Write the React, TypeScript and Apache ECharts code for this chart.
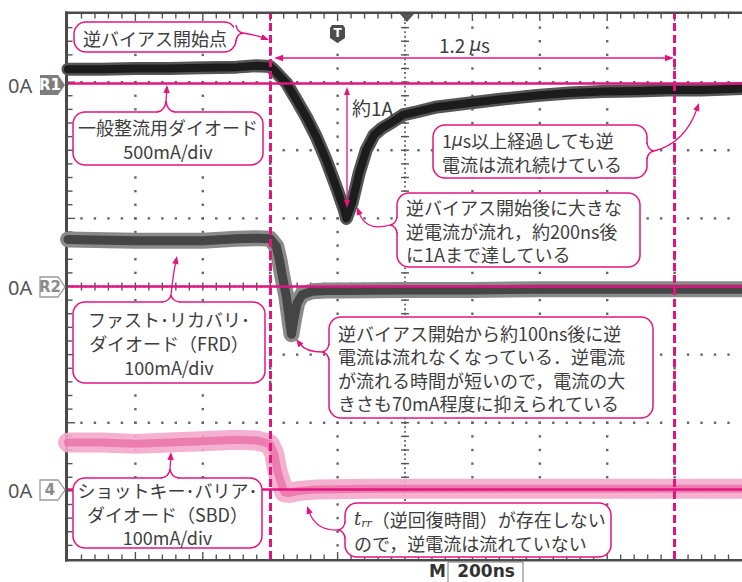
import { useEffect, useRef } from "react";
import * as echarts from "echarts";

// ---------------- data ----------------
// R1: general rectifier diode, 500 mA/div
const r1TimeNs = [0, 100, 200, 300, 400, 500, 560, 600, 615, 630, 648, 678, 707, 737, 766, 796, 820, 826, 843, 864, 885, 908, 932, 962, 994, 1033, 1095, 1192, 1290, 1391, 1488, 1586, 1686, 1784, 1882, 2000];
const r1CurrentA = [0.105, 0.105, 0.11, 0.11, 0.115, 0.12, 0.13, 0.125, 0.09, 0.05, 0.004, -0.121, -0.246, -0.393, -0.561, -0.76, -0.93, -0.99, -0.877, -0.657, -0.488, -0.378, -0.327, -0.283, -0.231, -0.209, -0.172, -0.143, -0.114, -0.088, -0.07, -0.059, -0.055, -0.048, -0.048, -0.037];
// R2: fast recovery diode, 100 mA/div
const frdTimeNs = [0, 200, 400, 500, 560, 600, 618, 627, 636, 648, 657, 663, 672, 680, 695, 725, 766, 800, 1000, 1200, 1400, 1600, 1800, 2000];
const frdCurrentMA = [69, 67, 67, 70, 71, 70, 59, 40, 15, -15, -48, -70, -44, -24, -12, -7, -6, -6, -5, -5, -4, -4, -4, -4];
// CH4: Schottky barrier diode, 100 mA/div
const sbdTimeNs = [0, 100, 200, 300, 400, 500, 560, 598, 612, 621, 633, 642, 657, 686, 737, 900, 1100, 1300, 1500, 1700, 1900, 2000];
const sbdCurrentMA = [69, 69, 67, 69, 71, 73, 72, 67, 53, 28, 9, -4, -5, -2, 0, 1, 1, 1, 1, 1, 1, 1];

const channelNames = ["R1", "R2", "4"];
const channelZeroDiv = [2.98, 0, -2.98];
const channelPerDiv = [0.5, 100, 100];
const cursorTimesNs = [600, 1800];
const timeRangeNs = [0, 2000];
const timeDivNs = 200;
const divRange = [-4, 4];
const minorPerDiv = 5;
const timebaseLabel = "200ns";

const MAG = "#e4147f";
const FONT = '"Noto Sans CJK JP", "Noto Sans", sans-serif';
const TXT = "#3d3d3d";

const pairs = (ts: number[], vs: number[], zero: number, perDiv: number) =>
  ts.map((t, i) => [t, zero + vs[i] / perDiv]);

function arrowHead(tx: number, ty: number, fx: number, fy: number, len = 8, half = 3.2): any {
  const dx = tx - fx, dy = ty - fy;
  const d = Math.hypot(dx, dy) || 1;
  const ux = dx / d, uy = dy / d;
  const bx = tx - ux * len, by = ty - uy * len;
  return {
    type: "polygon", z: 120, silent: true,
    shape: { points: [[tx, ty], [bx - uy * half, by + ux * half], [bx + uy * half, by - ux * half]] },
    style: { fill: MAG },
  };
}

function leader(sx: number, sy: number, cx: number, cy: number, tx: number, ty: number): any[] {
  const dx = tx - cx, dy = ty - cy;
  const d = Math.hypot(dx, dy) || 1;
  const ex = tx - (dx / d) * 6, ey = ty - (dy / d) * 6;
  return [
    { type: "bezierCurve", z: 119, silent: true, shape: { x1: sx, y1: sy, cpx1: cx, cpy1: cy, x2: ex, y2: ey }, style: { stroke: MAG, lineWidth: 1.3, fill: null } },
    arrowHead(tx, ty, cx, cy),
  ];
}

function tailTop(cx: number, top: number, apexY: number): any[] {
  return [
    { type: "rect", z: 111, silent: true, shape: { x: cx - 8, y: top - 2, width: 16, height: 4 }, style: { fill: "#fff" } },
    { type: "bezierCurve", z: 112, silent: true, shape: { x1: cx - 9, y1: top, cpx1: cx - 1, cpy1: top - 1, x2: cx, y2: apexY }, style: { stroke: MAG, lineWidth: 1.5, fill: null } },
    { type: "bezierCurve", z: 112, silent: true, shape: { x1: cx + 9, y1: top, cpx1: cx + 1, cpy1: top - 1, x2: cx, y2: apexY }, style: { stroke: MAG, lineWidth: 1.5, fill: null } },
  ];
}

function tailSide(edgeX: number, cy: number, dir: number): any[] {
  const ax = edgeX + dir * 7;
  return [
    { type: "rect", z: 111, silent: true, shape: { x: edgeX - 2, y: cy - 7, width: 4, height: 14 }, style: { fill: "#fff" } },
    { type: "bezierCurve", z: 112, silent: true, shape: { x1: edgeX, y1: cy - 8, cpx1: edgeX + dir, cpy1: cy - 1, x2: ax, y2: cy }, style: { stroke: MAG, lineWidth: 1.5, fill: null } },
    { type: "bezierCurve", z: 112, silent: true, shape: { x1: edgeX, y1: cy + 8, cpx1: edgeX + dir, cpy1: cy + 1, x2: ax, y2: cy }, style: { stroke: MAG, lineWidth: 1.5, fill: null } },
  ];
}

function textEl(x: number, y: number, text: string, extra: any = {}): any {
  return {
    type: "text", x, y, z: 115, silent: true,
    style: { text, fill: TXT, fontSize: 18, fontFamily: FONT, align: "left", verticalAlign: "middle", ...extra },
  };
}

type Box = { r: number[]; text: string; align: "left" | "center"; lh: number; rich?: any };

const boxes: Box[] = [
  { r: [74, 22, 236, 52], text: "逆バイアス開始点", align: "center", lh: 22 },
  { r: [73, 112, 263, 165], text: "一般整流用ダイオード\n500mA/div", align: "center", lh: 24 },
  { r: [433, 125, 647, 178], text: "1{mu|μ}s以上経過しても逆\n電流は流れ続けている", align: "left", lh: 24, rich: { mu: { fontStyle: "italic", fontFamily: "DejaVu Sans", fontSize: 17, fill: TXT, lineHeight: 24 } } },
  { r: [397, 193, 640, 267], text: "逆バイアス開始後に大きな\n逆電流が流れ，約200ns後\nに1Aまで達している", align: "left", lh: 23.5 },
  { r: [73, 302, 265, 383], text: "ファスト･リカバリ･\nダイオード（FRD）\n100mA/div", align: "center", lh: 24 },
  { r: [329, 317, 653, 418], text: "逆バイアス開始から約100ns後に逆\n電流は流れなくなっている．逆電流\nが流れる時間が短いので，電流の大\nきさも70mA程度に抑えられている", align: "left", lh: 23.5 },
  { r: [73, 478, 262, 548], text: "ショットキー･バリア･\nダイオード（SBD）\n100mA/div", align: "center", lh: 23.5 },
  { r: [345, 503, 611, 557], text: "{t|t}{rr|rr}（逆回復時間）が存在しない\nので，逆電流は流れていない", align: "left", lh: 24, rich: { t: { fontStyle: "italic", fontFamily: "DejaVu Serif", fontSize: 18, fill: TXT, lineHeight: 24 }, rr: { fontStyle: "italic", fontFamily: "DejaVu Serif", fontSize: 11, fill: TXT, lineHeight: 12, padding: [9, 0, 0, 0] } } },
];

function boxEls(b: Box): any[] {
  const [x0, y0, x1, y1] = b.r;
  const els: any[] = [
    { type: "rect", z: 110, silent: true, shape: { x: x0, y: y0, width: x1 - x0, height: y1 - y0, r: 12 }, style: { fill: "#fff", stroke: MAG, lineWidth: 1.5 } },
  ];
  const tx = b.align === "center" ? (x0 + x1) / 2 : x0 + 9;
  const extra: any = { align: b.align, lineHeight: b.lh };
  if (b.rich) extra.rich = b.rich;
  els.push(textEl(tx, (y0 + y1) / 2 + 0.5, b.text, extra));
  return els;
}

function buildGraphics(): any[] {
  const els: any[] = [];
  const tagY = [85, 287, 490];
  channelNames.forEach((name, i) => {
    const y = tagY[i];
    els.push(textEl(8, y, "0A", { fontSize: 20, fill: "#555", fontFamily: '"Noto Sans", sans-serif' }));
    const filled = i === 0;
    els.push({
      type: "polygon", z: 115, silent: true,
      shape: { points: [[40, y - 10], [58, y - 10], [65, y], [58, y + 10], [40, y + 10]] },
      style: filled ? { fill: "#7d7d7d" } : { fill: "#fff", stroke: "#9a9a9a", lineWidth: 1.3 },
    });
    els.push(textEl(50, y, name, { align: "center", fontSize: 15, fontWeight: "bold", fontFamily: '"DejaVu Sans", sans-serif', fill: filled ? "#fff" : "#8a8a8a" }));
  });
  els.push({ type: "polygon", z: 115, silent: true, shape: { points: [[400, 14], [414, 14], [407, 22]] }, style: { fill: "#555" } });
  els.push({ type: "polygon", z: 115, silent: true, shape: { points: [[330, 28], [332, 25], [343, 25], [345, 28], [345, 38], [337.5, 43], [330, 38]] }, style: { fill: "#4d4d4d" } });
  els.push(textEl(337.5, 33, "T", { align: "center", fontSize: 12, fontWeight: "bold", fill: "#fff", fontFamily: '"DejaVu Sans", sans-serif' }));

  els.push({ type: "line", z: 119, silent: true, shape: { x1: 281, y1: 58, x2: 667, y2: 58 }, style: { stroke: MAG, lineWidth: 1.3 } });
  els.push(arrowHead(274, 58, 290, 58, 9, 3.2));
  els.push(arrowHead(674, 58, 650, 58, 9, 3.2));
  els.push(textEl(439, 44, "1.2 {mu|μ}s", { fontSize: 19, rich: { mu: { fontStyle: "italic", fontFamily: "DejaVu Sans", fontSize: 18, fill: TXT } } }));

  els.push({ type: "line", z: 119, silent: true, shape: { x1: 347, y1: 94, x2: 347, y2: 202 }, style: { stroke: MAG, lineWidth: 1.3 } });
  els.push(arrowHead(347, 87, 347, 110, 8, 3));
  els.push(arrowHead(347, 208, 347, 180, 8, 3));
  els.push(textEl(352, 107, "約1A", { fontSize: 19 }));

  boxes.forEach((b) => els.push(...boxEls(b)));

  els.push(...tailSide(236, 33, 1));
  els.push(...leader(243, 33, 256, 35, 269, 40));
  els.push(...tailTop(166, 112, 101));
  els.push(...leader(166, 101, 166.5, 95, 167, 85));
  els.push(...tailSide(647, 151, 1));
  els.push(...leader(654, 151, 685, 143, 699, 103));
  els.push(...tailSide(397, 225, -1));
  els.push(...leader(390, 225, 366, 232, 357, 207));
  els.push(...tailTop(171, 302, 295));
  els.push(...leader(171, 295, 173, 275, 177, 256));
  els.push(...tailSide(329, 352, -1));
  els.push(...leader(322, 352, 306, 352, 296, 339));
  els.push(...tailTop(170, 478, 469));
  els.push(...leader(170, 469, 170.5, 462, 171, 452));
  els.push(...tailSide(345, 530, -1));
  els.push(...leader(338, 530, 316, 531, 307, 506));

  els.push(textEl(437.5, 571, "M", { align: "center", fontSize: 17, fontWeight: "bold", fill: "#333", fontFamily: '"DejaVu Sans", sans-serif' }));
  els.push({ type: "rect", z: 115, silent: true, shape: { x: 448, y: 562, width: 75, height: 24 }, style: { fill: "#fff", stroke: "#777", lineWidth: 1 } });
  els.push(textEl(486, 571, timebaseLabel, { align: "center", fontSize: 17, fontWeight: "bold", fill: "#333", fontFamily: '"DejaVu Sans", sans-serif' }));
  return els;
}

// oscilloscope graticule: dots drawn as small squares, positioned through the chart's own axes
function buildGraticule(px: (t: number, v: number) => number[]): any[] {
  const els: any[] = [];
  const [xL, yT] = px(timeRangeNs[0], divRange[1]);
  const [xR, yB] = px(timeRangeNs[1], divRange[0]);
  const nT = (timeRangeNs[1] - timeRangeNs[0]) / timeDivNs;
  const nV = divRange[1] - divRange[0];
  const stepY = (yB - yT) / (nV * minorPerDiv);
  const stepX = (xR - xL) / (nT * minorPerDiv);
  const tMid = (timeRangeNs[0] + timeRangeNs[1]) / 2;
  const [xMid, yMid] = px(tMid, 0);
  const dot = (x: number, y: number, s = 2.4, c = "#666") =>
    els.push({ type: "rect", z: 1, silent: true, shape: { x: x - s / 2, y: y - s / 2, width: s, height: s }, style: { fill: c } });
  const bar = (x1: number, y1: number, x2: number, y2: number, c = "#555") =>
    els.push({ type: "rect", z: 1, silent: true, shape: { x: Math.min(x1, x2), y: Math.min(y1, y2), width: Math.max(Math.abs(x2 - x1), 1.4), height: Math.max(Math.abs(y2 - y1), 1.4) }, style: { fill: c } });
  // dotted division lines
  for (let i = 1; i < nT; i++) {
    const x = xL + i * stepX * minorPerDiv;
    if (Math.abs(x - xMid) < 1) continue;
    for (let k = 1; k < nV * minorPerDiv; k++) dot(x, yT + k * stepY);
  }
  for (let j = 1; j < nV; j++) {
    const y = yT + j * stepY * minorPerDiv;
    if (Math.abs(y - yMid) < 1) continue;
    for (let k = 1; k < nT * minorPerDiv; k++) dot(xL + k * stepX, y);
  }
  // center cross: denser dots and tick marks
  for (let k = 1; k < nV * minorPerDiv * 3; k++) dot(xMid, yT + (k * stepY) / 3, 1.9, "#6a6a6a");
  for (let k = 1; k < nT * minorPerDiv * 3; k++) dot(xL + (k * stepX) / 3, yMid, 1.9, "#6a6a6a");
  for (let k = 1; k < nV * minorPerDiv; k++) {
    const y = yT + k * stepY;
    bar(xMid - 4, y - 0.7, xMid + 4, y + 0.7);
    bar(xL, y - 0.7, xL + (k % minorPerDiv === 0 ? 7 : 4.5), y + 0.7);
  }
  for (let k = 1; k < nT * minorPerDiv; k++) {
    const x = xL + k * stepX;
    const len = k % minorPerDiv === 0 ? 7 : 4.5;
    bar(x - 0.7, yMid - 4, x + 0.7, yMid + 4);
    bar(x - 0.7, yT, x + 0.7, yT + len);
    bar(x - 0.7, yB - len, x + 0.7, yB);
  }
  // frame
  bar(xL - 3, yT - 2.5, xL, yB + 2.5, "#4a4a4a");
  bar(xL - 3, yT - 2.5, xR + 2, yT, "#4a4a4a");
  bar(xL - 3, yB, xR + 2, yB + 2.5, "#4a4a4a");
  return els;
}

const hiddenAxis = (min: number, max: number, interval: number, position: string): any => ({
  type: "value", min, max, interval, position,
  axisLine: { show: false }, axisTick: { show: false }, axisLabel: { show: false }, splitLine: { show: false },
});

function traceSeries(data: number[][], color: string, width: number, z: number): any {
  return {
    type: "line", data, xAxisIndex: 0, yAxisIndex: 0, symbol: "none", showSymbol: false, silent: true, z,
    lineStyle: { color, width, join: "round", cap: "round" },
  };
}

export default function App() {
  const ref = useRef<HTMLDivElement>(null);
  useEffect(() => {
    if (!ref.current) return;
    const chart = echarts.init(ref.current, undefined, { renderer: "svg" });
    const r1 = pairs(r1TimeNs, r1CurrentA, channelZeroDiv[0], channelPerDiv[0]);
    const r2 = pairs(frdTimeNs, frdCurrentMA, channelZeroDiv[1], channelPerDiv[1]);
    const c4 = pairs(sbdTimeNs, sbdCurrentMA, channelZeroDiv[2], channelPerDiv[2]);
    chart.setOption({
      animation: false,
      backgroundColor: "#ffffff",
      grid: { left: 68, top: 14, width: 676, height: 545, containLabel: false },
      xAxis: hiddenAxis(timeRangeNs[0], timeRangeNs[1], timeDivNs, "bottom"),
      yAxis: hiddenAxis(divRange[0], divRange[1], 1, "left"),
      series: [
        traceSeries(c4, "rgba(244,168,203,0.9)", 20, 2),
        traceSeries(c4, "rgba(233,112,166,0.8)", 8, 3),
        traceSeries(r2, "#8a8a8a", 16, 2),
        traceSeries(r2, "#454545", 9, 3),
        traceSeries(r1, "#555555", 13, 2),
        traceSeries(r1, "#1c1c1c", 8, 3),
        {
          type: "line", data: [], xAxisIndex: 0, yAxisIndex: 0, z: 6, silent: true,
          markLine: {
            silent: true, symbol: ["none", "none"], label: { show: false }, animation: false,
            lineStyle: { color: MAG, width: 2.5, type: "solid" },
            data: [
              ...channelZeroDiv.map((v) => ({ yAxis: v })),
              ...cursorTimesNs.map((t) => ({ xAxis: t, lineStyle: { color: MAG, width: 3, type: [8, 4] } })),
            ],
          },
        },
      ],
    });
    const px = (t: number, v: number) => chart.convertToPixel({ gridIndex: 0 }, [t, v]) as number[];
    chart.setOption({ graphic: { elements: [...buildGraticule(px), ...buildGraphics()] } });
    return () => chart.dispose();
  }, []);
  return (
    <div
      ref={ref}
      style={{ position: "fixed", left: 0, top: 0, width: 742, height: 582, background: "#fff" }}
    />
  );
}
